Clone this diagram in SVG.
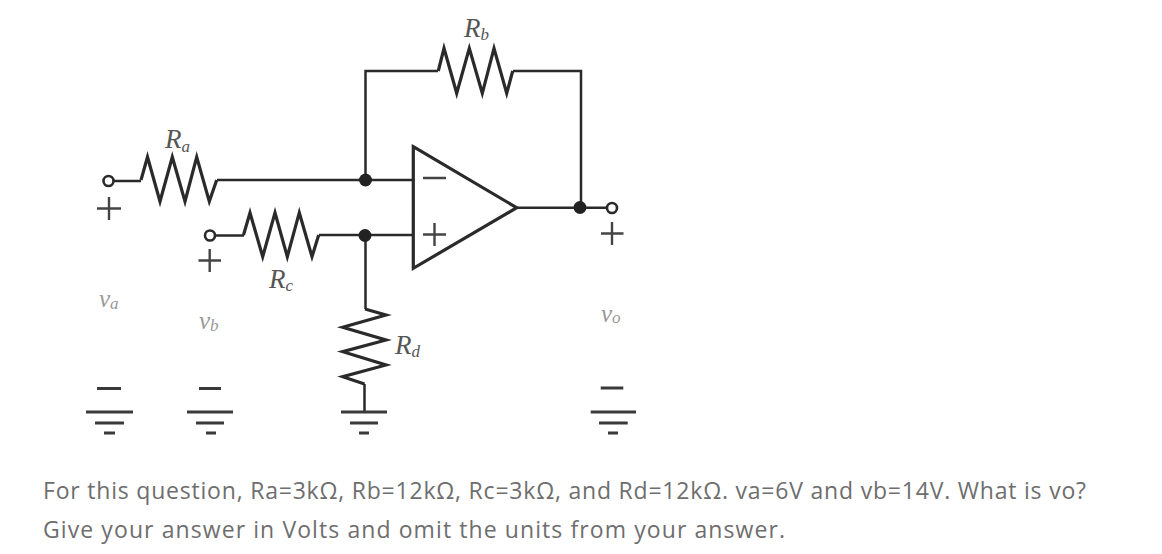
<svg xmlns="http://www.w3.org/2000/svg" width="1162" height="554" viewBox="0 0 1162 554">
<style>
.w{fill:none;stroke:#2a2a2a;stroke-width:2.500;stroke-linejoin:miter}
.r{fill:none;stroke:#2a2a2a;stroke-width:3.200;stroke-linejoin:miter}
.dot{fill:#222}
.term{fill:#fff;stroke:#2a2a2a;stroke-width:2.600}
.sym{fill:none;stroke:#444;stroke-width:2.400}
.gnd{fill:none;stroke:#3a3a3a;stroke-width:2.800}
.lab{font-family:"Liberation Serif","DejaVu Serif",serif;font-style:italic;fill:#555}
.sub{font-size:17px}
.main{font-size:27px}
.v{font-size:25px;fill:#999}
.vs{font-size:17px;fill:#999}
.q{font-family:"Open Sans","Noto Sans",sans-serif;font-size:23px;fill:#6e6e6e}
</style>
<rect width="1162" height="554" fill="#fff"/>
<g id="connectors">
<path class="w" d="M113 181H141M217 180H413M215 235.500H244M319 235H413M365.500 235V309M364.500 384V412M365.500 180V71H438M513 71H581V208M517 207.700H607"/>
</g>
<g id="Ra"><path class="r" d="M141 180L147.500 157L160 201.500L172.300 157L185 201.500L196.700 157L209.300 201.500L216.700 180"/>
<text class="lab" x="165" y="148"><tspan class="main">R</tspan><tspan class="sub" dy="4">a</tspan></text></g>
<g id="Rc"><path class="r" d="M243.500 235L250 212.700L262.700 256.700L275 212.700L287.300 256.700L299.300 212.700L312 256.700L318.700 235"/>
<text class="lab" x="269" y="288"><tspan class="main">R</tspan><tspan class="sub" dy="3">c</tspan></text></g>
<g id="Rb"><path class="r" d="M438.300 71L444 48.300L456.700 93.300L469.300 48.300L482.300 93.300L494 48.300L506.700 93.300L512.700 71"/>
<text class="lab" x="464" y="37"><tspan class="main">R</tspan><tspan class="sub" dy="3">b</tspan></text></g>
<g id="Rd"><path class="r" d="M365 309L386 315L342.700 327.300L386 340L342.700 351.700L386 365L342.700 376.700L364.500 384"/>
<text class="lab" x="395" y="354"><tspan class="main">R</tspan><tspan class="sub" dy="3">d</tspan></text></g>
<g id="opamp"><path d="M413.300 146.700L516.700 207.700L413.300 268.300Z" fill="#fff" stroke="#2a2a2a" stroke-width="3.200"/>
<path class="sym" d="M423 178H446M423 234.500H446M434.500 223V246"/></g>
<g id="junctions">
<circle class="dot" cx="365.500" cy="180" r="6.500"/><circle class="dot" cx="365" cy="235.500" r="6.500"/><circle class="dot" cx="580" cy="207.500" r="6.500"/>
</g>
<g id="source-a"><circle class="term" cx="108.500" cy="181" r="5"/><path class="sym" d="M97 208.500H121M109 197V220"/>
<text class="lab v" x="99" y="307">v</text><text class="lab vs" x="110" y="309">a</text>
<path class="gnd" d="M97 388.500H121M86 412H133M95 423H124M104 433H115"/></g>
<g id="source-b"><circle class="term" cx="210" cy="235.500" r="5"/><path class="sym" d="M198.500 260.500H221M209.700 249V272"/>
<text class="lab v" x="199" y="329">v</text><text class="lab vs" x="210" y="331">b</text>
<path class="gnd" d="M199 388.500H221M187 412H233M196 423H224M206 433H216"/></g>
<g id="ground-d"><path class="gnd" d="M341 412H387M350 423H378M359 433H369"/></g>
<g id="output"><circle class="term" cx="612" cy="208" r="5"/><path class="sym" d="M601 233.500H623.500M612 222V245"/>
<text class="lab v" x="601" y="322">v</text><text class="lab vs" x="612" y="323">o</text>
<path class="gnd" d="M600.700 388H623.300M590.700 412H636M599 423H627.700M608 433H618"/></g>
<g id="question">
<text class="q" x="43" y="499" textLength="1043" lengthAdjust="spacing">For this question, Ra=3kΩ, Rb=12kΩ, Rc=3kΩ, and Rd=12kΩ. va=6V and vb=14V. What is vo?</text>
<text class="q" x="43" y="538" textLength="742" lengthAdjust="spacing">Give your answer in Volts and omit the units from your answer.</text>
</g>
</svg>
